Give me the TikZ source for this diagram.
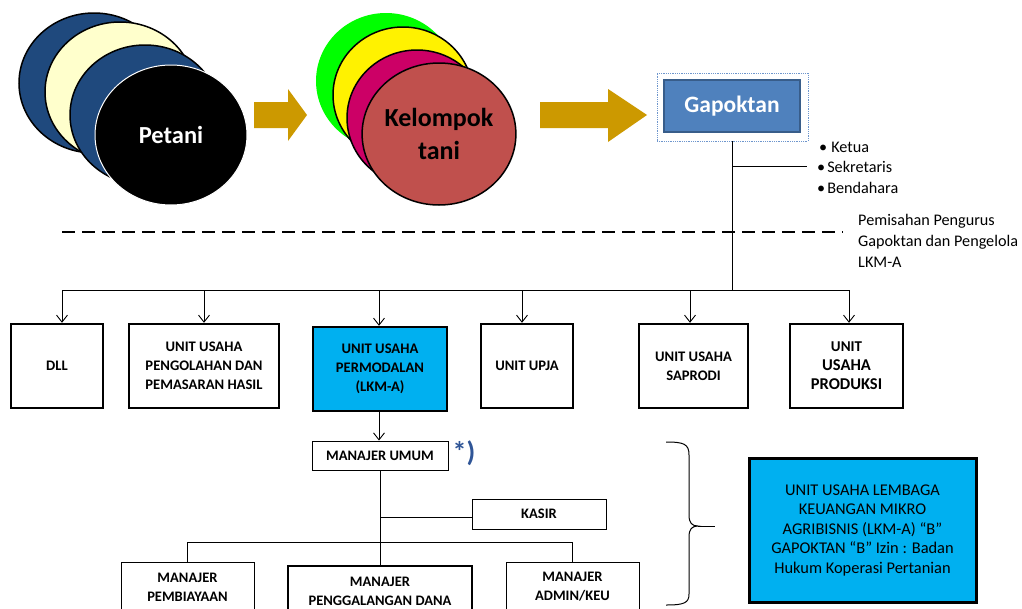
\documentclass[tikz,border=0pt]{standalone}
\usepackage{fontspec}
\setmainfont{Carlito}
\usetikzlibrary{arrows.meta,shapes.geometric}
\definecolor{gold}{RGB}{204,153,0}
\definecolor{navy}{RGB}{31,73,125}
\definecolor{cream}{RGB}{255,255,204}
\definecolor{mag}{RGB}{204,0,102}
\definecolor{redb}{RGB}{192,80,77}
\definecolor{cyanb}{RGB}{0,176,240}
\definecolor{gapblue}{RGB}{79,129,189}
\definecolor{gapborder}{RGB}{56,93,138}
\definecolor{frameblue}{RGB}{110,150,205}
\definecolor{starblue}{RGB}{47,85,151}
\begin{document}
\begin{tikzpicture}[x=1pt,y=-1pt,
  circ/.style={ellipse, draw=black, line width=1.5pt, inner sep=0pt},
  blockarrow/.style={fill=gold},
  unitbox/.style={draw=black, line width=2.4pt, inner sep=0pt, align=center,
    font=\fontsize{14.6}{19}\selectfont\bfseries},
  mbox/.style={draw=black, line width=0.9pt, inner sep=0pt, align=center,
    font=\fontsize{14.5}{19}\selectfont\bfseries},
  conn/.style={draw=black, line width=0.9pt},
  arr/.style={conn, -{Straight Barb[length=7pt,width=11pt]}},
  bullet/.style={anchor=west, inner sep=0pt, font=\fontsize{16.2}{20}\selectfont}
]
\clip (0,0) rectangle (1022,608);
\fill[white] (0,0) rectangle (1022,608);

% Petani circles
\node[circ, fill=navy, minimum width=150, minimum height=140] (pa) at (94,83) {};
\node[circ, fill=cream, minimum width=150, minimum height=140] (pb) at (120,92) {};
\node[circ, fill=navy, minimum width=150, minimum height=140] (pc) at (145,115) {};
\node[ellipse, draw=white, line width=1pt, fill=black, minimum width=152, minimum height=140,
  text=white, font=\fontsize{24.5}{28}\selectfont\bfseries] (petani) at (171,135) {Petani};

% block arrow 1
\fill[blockarrow] (254,102) -- (288,102) -- (288,89) -- (307,115) -- (288,141) -- (288,128) -- (254,128) -- cycle;

% Kelompok circles
\node[ellipse, fill=green, minimum width=140, minimum height=136] (ka) at (386,81) {};
\node[circ, fill=yellow, minimum width=140, minimum height=136] (kb) at (403,95) {};
\node[circ, fill=mag, minimum width=140, minimum height=136] (kc) at (417,118) {};
\node[circ, fill=redb, minimum width=152, minimum height=142, align=center,
  font=\fontsize{26}{33}\selectfont\bfseries] (kelompok) at (439,134) {Kelompok\\tani};

% block arrow 2
\fill[blockarrow] (540,102) -- (608,102) -- (608,89) -- (647,115) -- (608,142) -- (608,128) -- (540,128) -- cycle;

% Gapoktan
\node[draw=frameblue, densely dotted, line width=0.8pt, minimum width=151, minimum height=68, inner sep=0pt] (gframe) at (732.5,107) {};
\node[fill=gapblue, draw=gapborder, line width=2pt, minimum width=136, minimum height=52, inner sep=0pt,
  text=white, font=\fontsize{23.5}{26}\selectfont\bfseries] (gap) at (732,106) {Gapoktan};

% pengurus
\node[bullet] (ketua) at (819,147) {•\hspace{4pt}Ketua};
\node[bullet] (sek) at (817,167) {•\hspace{2pt}Sekretaris};
\node[bullet] (bend) at (817,188) {•\hspace{2pt}Bendahara};
\coordinate (bj) at (732.5,166);
\coordinate (bje) at (807,166);
\draw[conn] (bj) -- (bje);

% dashed separator
\draw[line width=1.3pt, dash pattern=on 13pt off 7pt] (62,232) -- (843,232);
\node[anchor=west, align=left, inner sep=0pt, font=\fontsize{16.2}{21}\selectfont] (pisah) at (858,241)
  {Pemisahan Pengurus\\Gapoktan dan Pengelola\\LKM-A};

% distribution line
\coordinate (h1) at (62,290);
\coordinate (h2) at (204,290);
\coordinate (h3) at (379,290);
\coordinate (h4) at (522,290);
\coordinate (h5) at (690,290);
\coordinate (h6) at (849,290);
\draw[conn] (gframe.south) -- (gframe.south |- h1);
\draw[conn] (h1) -- (h6);

% unit boxes
\node[unitbox, minimum width=92, minimum height=84] (dll) at (57,366) {DLL};
\node[unitbox, minimum width=150, minimum height=84] (olah) at (204,366) {UNIT USAHA\\PENGOLAHAN DAN\\PEMASARAN HASIL};
\node[unitbox, fill=cyanb, minimum width=134, minimum height=84] (modal) at (380,369) {UNIT USAHA\\PERMODALAN\\(LKM-A)};
\node[unitbox, minimum width=92, minimum height=84] (upja) at (527,366) {UNIT UPJA};
\node[unitbox, minimum width=109, minimum height=84] (saprodi) at (693.5,366) {UNIT USAHA\\SAPRODI};
\node[unitbox, minimum width=113, minimum height=84] (produksi) at (846.5,366)
  {{\fontsize{15}{19}\selectfont UNIT}\\{\fontsize{16.5}{19}\selectfont USAHA}\\{\fontsize{16.5}{19}\selectfont PRODUKSI}};

\draw[arr] (h1) -- (h1 |- dll.north);
\draw[arr] (h2) -- (h2 |- olah.north);
\draw[arr] (h3) -- (h3 |- modal.north);
\draw[arr] (h4) -- (h4 |- upja.north);
\draw[arr] (h5) -- (h5 |- saprodi.north);
\draw[arr] (h6) -- (h6 |- produksi.north);

% LKM-A structure
\node[mbox, minimum width=136, minimum height=29] (mu) at (380,455.5) {MANAJER UMUM};
\node[text=starblue, inner sep=0pt, font=\fontsize{28}{30}\selectfont\bfseries] (star) at (464,453) {*)};
\draw[arr] (modal.south -| h3) -- (mu.north -| h3);

\node[mbox, minimum width=134, minimum height=30] (kasir) at (539,514) {KASIR};
\node[mbox, minimum width=133, minimum height=50] (mp) at (187.5,587) {MANAJER\\PEMBIAYAAN};
\node[mbox, line width=1.4pt, minimum width=184, minimum height=50] (mg) at (380,591) {MANAJER\\PENGGALANGAN DANA};
\node[mbox, minimum width=133, minimum height=50] (ma) at (572.5,587) {MANAJER\\ADMIN/KEU};

\coordinate (kj) at (380,517);
\coordinate (mj1) at (187.5,542);
\coordinate (mj2) at (572.5,542);
\draw[conn] (mu.south) -- (mg.north);
\draw[conn] (kj) -- (kasir.west |- kj);
\draw[conn] (mj1) -- (mj2);
\draw[conn] (mj1) -- (mp.north);
\draw[conn] (mj2) -- (ma.north);

% brace
\draw[line width=1pt] (666,442) .. controls (684,442) and (689,444) .. (689,455) -- (689,515)
  .. controls (689,523) and (692,526) .. (698,526)
  .. controls (692,526) and (689,529) .. (689,537) -- (689,594)
  .. controls (689,603) and (684,605) .. (666,605);
\coordinate (btip) at (698,526);
\coordinate (bend2) at (715,526);
\draw[line width=1pt] (btip) -- (bend2);

% LKM-A description box
\node[draw=black, line width=3pt, fill=cyanb, minimum width=227, minimum height=144, inner sep=0pt,
  align=center, font=\fontsize{16.4}{19.5}\selectfont] (lkma) at (862.5,530)
  {UNIT USAHA LEMBAGA\\KEUANGAN MIKRO\\AGRIBISNIS (LKM-A) “B”\\GAPOKTAN “B” Izin : Badan\\Hukum Koperasi Pertanian};
\end{tikzpicture}
\end{document}
